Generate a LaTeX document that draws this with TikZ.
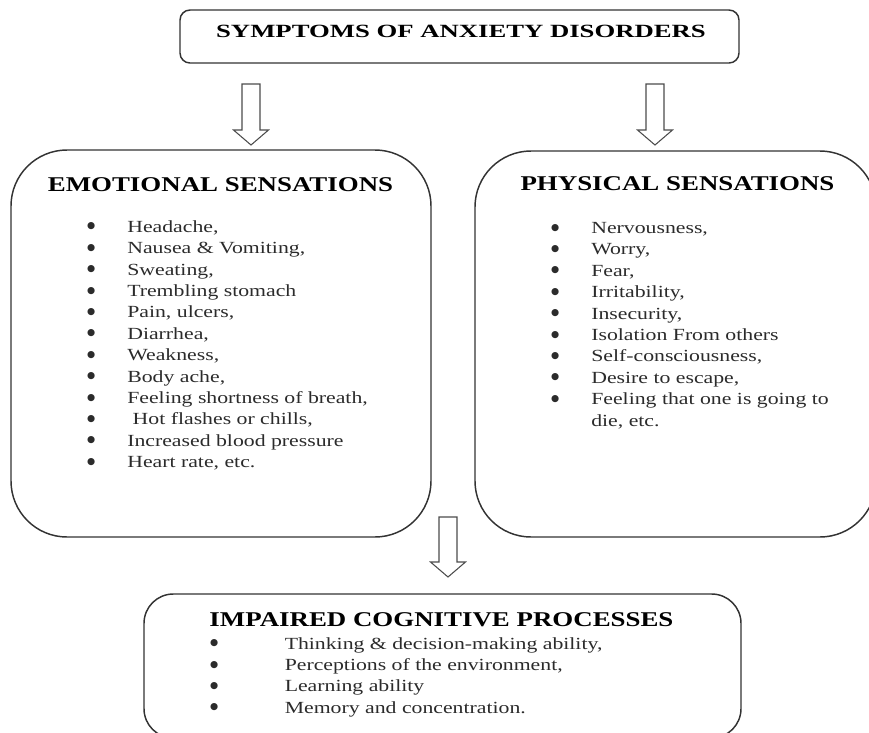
\documentclass[tikz,border=0pt]{standalone}
\usepackage{fontspec}
\setmainfont{Liberation Serif}
\newfontfamily\bulletfont{DejaVu Sans}
\usetikzlibrary{calc}
\definecolor{boxline}{HTML}{333333}
\definecolor{bodytext}{HTML}{2B2B2B}
\newcommand{\bitem}[1][25.1pt]{\makebox[#1][l]{\makebox[8pt][c]{\raisebox{2.5pt}{\scalebox{0.78}[1]{\bulletfont\fontsize{7}{8}\selectfont ●}}}}}
\newcommand{\wide}[2][1.28]{\scalebox{#1}[1]{#2}}
\tikzset{
  bigbox/.style={draw=boxline, line width=1.1pt, rounded corners=42pt, inner sep=0pt},
  smallbox/.style={draw=boxline, line width=1.1pt, rounded corners=#1, inner sep=0pt},
  titletext/.style={font=\fontsize{14}{16}\selectfont\bfseries, inner sep=0pt, anchor=base},
  headtext/.style={font=\fontsize{15.75}{18}\selectfont\bfseries, inner sep=0pt, anchor=base},
  listtext/.style={font=\fontsize{12.75}{16.05}\selectfont, text=bodytext, inner sep=0pt, anchor=base west},
  blockarrow/.style={draw=black!70, line width=0.8pt, fill=white, line join=miter}
}
\begin{document}
\begin{tikzpicture}[x=0.75pt,y=-0.75pt]
\useasboundingbox (0,0) rectangle (869,733);
% boxes
\node[smallbox=7.5pt, minimum width=419.25pt, minimum height=39.75pt] (top) at (459.5,36.5) {};
\node[bigbox, minimum width=315pt, minimum height=290.25pt] (emo) at (221,343.5) {};
\node[bigbox, minimum width=300.75pt, minimum height=289.5pt] (phys) at (675.5,344) {};
\node[smallbox=22pt, minimum width=447.75pt, minimum height=108pt] (cog) at (442.5,666) {};
% headings
\node[titletext] (toptitle) at (461,37) {\wide[1.43]{SYMPTOMS OF ANXIETY DISORDERS}};
\node[headtext] (emotitle) at (220.5,191) {\wide{EMOTIONAL SENSATIONS}};
\node[headtext] (phystitle) at (677.5,190) {\wide{PHYSICAL SENSATIONS}};
\node[headtext] (cogtitle) at (441.5,626) {\wide{IMPAIRED COGNITIVE PROCESSES}};
% lists
\node[listtext] (emolist) at (84.2,232.3) {\wide{\begin{tabular}[t]{@{}l@{}}
  \bitem Headache,\\
  \bitem Nausea \& Vomiting,\\
  \bitem Sweating,\\
  \bitem Trembling stomach\\
  \bitem Pain, ulcers,\\
  \bitem Diarrhea,\\
  \bitem Weakness,\\
  \bitem Body ache,\\
  \bitem Feeling shortness of breath,\\
  \bitem ~Hot flashes or chills,\\
  \bitem Increased blood pressure\\
  \bitem Heart rate, etc.
\end{tabular}}};
\node[listtext] (physlist) at (548.2,233.5) {\wide{\begin{tabular}[t]{@{}l@{}}
  \bitem Nervousness,\\
  \bitem Worry,\\
  \bitem Fear,\\
  \bitem Irritability,\\
  \bitem Insecurity,\\
  \bitem Isolation From others\\
  \bitem Self-consciousness,\\
  \bitem Desire to escape,\\
  \bitem Feeling that one is going to\\
  \makebox[25.1pt]{}die, etc.
\end{tabular}}};
\node[listtext] (coglist) at (207.2,649) {\wide{\begin{tabular}[t]{@{}l@{}}
  \bitem[42.1pt] Thinking \& decision-making ability,\\
  \bitem[42.1pt] Perceptions of the environment,\\
  \bitem[42.1pt] Learning ability\\
  \bitem[42.1pt] Memory and concentration.
\end{tabular}}};
% block arrows
\coordinate (arrLs) at (251,84);   \coordinate (arrLe) at (251,145);
\coordinate (arrRs) at (655,84);   \coordinate (arrRe) at (655,145);
\coordinate (arrDs) at (448,517);  \coordinate (arrDe) at (448,577);
\foreach \s/\e in {arrLs/arrLe, arrRs/arrRe, arrDs/arrDe}
  \draw[blockarrow] ($(\s)+(-9,0)$) -- ($(\e)+(-9,-15)$) -- ($(\e)+(-17.5,-15)$) -- (\e)
    -- ($(\e)+(17.5,-15)$) -- ($(\e)+(9,-15)$) -- ($(\s)+(9,0)$) -- cycle;
\end{tikzpicture}
\end{document}
